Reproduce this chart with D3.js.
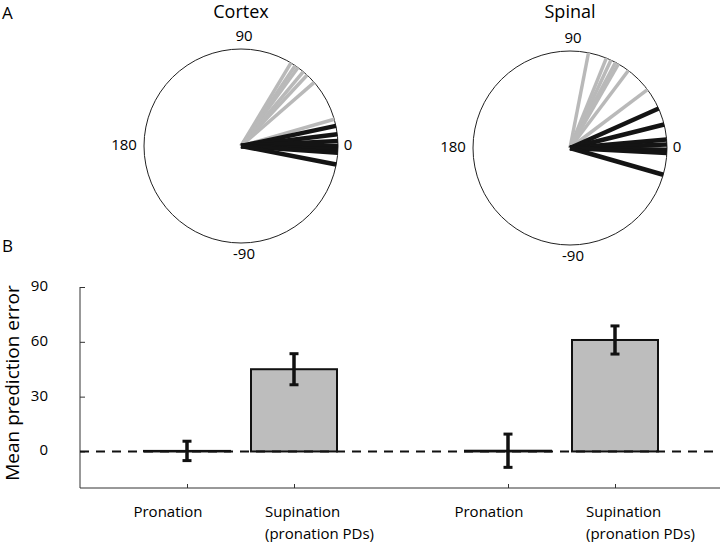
<!DOCTYPE html>
<html><head><meta charset="utf-8">
<script src="https://cdn.jsdelivr.net/npm/d3@7"></script>
<style>body{margin:0;background:#fff}svg{display:block;font-family:"Open Sans",sans-serif}</style>
</head><body>
<svg id="c" width="720" height="542"></svg>
<script>
// Panel A data: preferred directions (degrees)
const cortexSupination = [59, 56, 54, 50, 47, 41, 16];   // gray
const cortexPronation  = [12, 7, 3, 0, -2, -4, -11];     // black
const spinalSupination = [79, 68, 65, 62, 60, 53, 37];   // gray
const spinalPronation  = [24, 14, 5, 2, -1, -3, -16];    // black
const polarTitles = ["Cortex", "Spinal"];
const polarTickLabels = [90, 0, -90, 180];

// Panel B data
const categories = ["Pronation", "Supination\n(pronation PDs)", "", "Pronation ", "Supination \n(pronation PDs)"];
const barValues  = [0.3, 45, null, 0.4, 61];
const barErrors  = [5.3, 8.5, null, 9.1, 7.7];
const yTicks = [0, 30, 60, 90];

const svg = d3.select("#c");

// Panel letters
svg.append("text").attr("x", 2).attr("y", 19).attr("font-size", 17).text("A");
svg.append("text").attr("x", 2).attr("y", 252).attr("font-size", 17).text("B");

// ---------- Panel A ----------
const ang = d3.scaleLinear().domain([0, 90]).range([Math.PI / 2, 0]);
const polars = [
  {title: polarTitles[0], cx: 241, cy: 146, r: 97, gray: cortexSupination, black: cortexPronation},
  {title: polarTitles[1], cx: 570, cy: 148, r: 97, gray: spinalSupination, black: spinalPronation}
];
polars.forEach(p => {
  const g = svg.append("g").attr("transform", `translate(${p.cx},${p.cy})`);
  const rs = d3.scaleLinear().domain([0, 1]).range([0, p.r]);
  g.append("circle").attr("r", rs(1)).attr("fill", "#fff").attr("stroke", "#222").attr("stroke-width", 1);
  const spoke = (d) => { const [x, y] = d3.pointRadial(ang(d), rs(1)); return `M0,0L${x},${y}`; };
  g.selectAll("path.gray").data(p.gray).join("path").attr("class", "gray")
    .attr("d", spoke).attr("stroke", "#b9b9b9").attr("stroke-width", 3.5).attr("fill", "none");
  g.selectAll("path.black").data(p.black).join("path").attr("class", "black")
    .attr("d", spoke).attr("stroke", "#141414").attr("stroke-width", 4.5).attr("fill", "none");
  g.append("text").attr("x", 0).attr("y", 13 - p.cy).attr("text-anchor", "middle")
    .attr("dominant-baseline", "middle").attr("font-size", 18).text(p.title);
  const lab = [
    {t: polarTickLabels[0], a: 90, off: 12, dx: 3},
    {t: polarTickLabels[1], a: 0, off: 10, dx: 0},
    {t: polarTickLabels[2], a: -90, off: 12, dx: 3},
    {t: polarTickLabels[3], a: 180, off: 20, dx: 0}
  ];
  lab.forEach(l => {
    const [x, y] = d3.pointRadial(ang(l.a), rs(1) + l.off);
    g.append("text").attr("x", x + l.dx).attr("y", y).attr("text-anchor", "middle")
      .attr("dominant-baseline", "middle").attr("font-size", 15).text(l.t);
  });
});

// ---------- Panel B ----------
const x = d3.scalePoint().domain(categories).range([80, 722]).padding(1);
const y = d3.scaleLinear().domain([-20, 90]).range([488, 287]);
const bw = 86;

// axes
const yAxis = svg.append("g").attr("transform", "translate(80,0)")
  .call(d3.axisRight(y).tickValues(yTicks).tickSize(5).tickFormat(""));
yAxis.select(".domain").attr("d", `M0,${y(90)}V${y(-20)}`).attr("stroke", "#333");
yAxis.selectAll(".tick line").attr("stroke", "#333");
svg.selectAll("text.ytl").data(yTicks).join("text").attr("class", "ytl")
  .attr("x", 48).attr("y", d => y(d)).attr("text-anchor", "end").attr("dominant-baseline", "middle")
  .attr("font-size", 15).text(d => d);

const xAxis = svg.append("g").attr("transform", `translate(0,${y(-20)})`)
  .call(d3.axisTop(x).tickValues(categories.filter(c => c !== "")).tickSize(4).tickFormat(""));
xAxis.select(".domain").attr("d", "M80,0H720").attr("stroke", "#333");
xAxis.selectAll(".tick line").attr("stroke", "#333");

// bars
const bars = categories.map((c, i) => ({c, v: barValues[i], e: barErrors[i]})).filter(d => d.v !== null);
svg.selectAll("rect.bar").data(bars).join("rect").attr("class", "bar")
  .attr("x", d => x(d.c) - bw / 2).attr("width", bw)
  .attr("y", d => y(d.v)).attr("height", d => y(0) - y(d.v))
  .attr("fill", "#bdbdbd").attr("stroke", "#111").attr("stroke-width", 2);

// dashed zero line
svg.append("line").attr("x1", 80).attr("x2", 720).attr("y1", y(0)).attr("y2", y(0))
  .attr("stroke", "#111").attr("stroke-width", 2).attr("stroke-dasharray", "9,7");

// error bars
const eb = svg.selectAll("g.eb").data(bars).join("g").attr("class", "eb");
eb.append("line").attr("x1", d => x(d.c)).attr("x2", d => x(d.c))
  .attr("y1", d => y(d.v + d.e)).attr("y2", d => y(d.v - d.e)).attr("stroke", "#111").attr("stroke-width", 3.5);
eb.append("line").attr("x1", d => x(d.c) - 4.5).attr("x2", d => x(d.c) + 4.5)
  .attr("y1", d => y(d.v + d.e)).attr("y2", d => y(d.v + d.e)).attr("stroke", "#111").attr("stroke-width", 3);
eb.append("line").attr("x1", d => x(d.c) - 4.5).attr("x2", d => x(d.c) + 4.5)
  .attr("y1", d => y(d.v - d.e)).attr("y2", d => y(d.v - d.e)).attr("stroke", "#111").attr("stroke-width", 3);

// category labels
bars.forEach(d => {
  const lines = d.c.trim().split("\n");
  if (lines.length === 1) {
    svg.append("text").attr("x", x(d.c) - 19).attr("y", 513).attr("text-anchor", "middle")
      .attr("dominant-baseline", "middle").attr("font-size", 15).text(lines[0].trim());
  } else {
    lines.forEach((t, k) => {
      svg.append("text").attr("x", x(d.c) - 29).attr("y", 513 + k * 22)
        .attr("dominant-baseline", "middle").attr("font-size", 15).text(t.trim());
    });
  }
});

// y title
svg.append("text").attr("transform", `translate(14,${383}) rotate(-90)`).attr("text-anchor", "middle")
  .attr("dominant-baseline", "middle").attr("font-size", 19).text("Mean prediction error");
</script>
</body></html>
